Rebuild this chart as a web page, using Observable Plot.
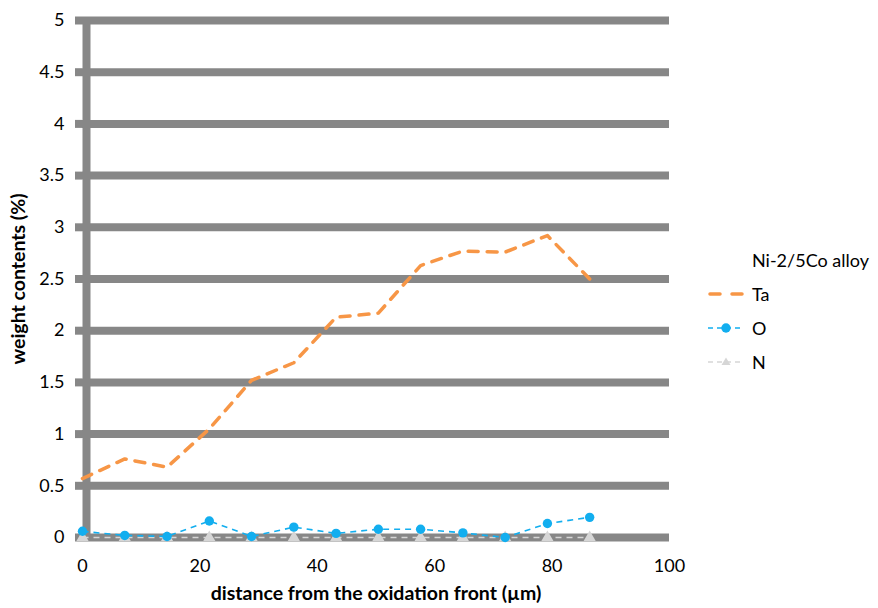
<!DOCTYPE html>
<html><head><meta charset="utf-8">
<script src="https://cdn.jsdelivr.net/npm/d3@7"></script>
<script src="https://cdn.jsdelivr.net/npm/@observablehq/plot@0.6"></script>
<style>
body{margin:0;background:#fff;font-family:Lato,"Open Sans",sans-serif}
#wrap{position:relative;width:878px;height:608px;overflow:hidden}
#legend{position:absolute;left:708px;top:243px;font-size:18px;color:#000;line-height:34px}
#legend .row{display:flex;align-items:center;height:34px}
#legend .title{padding-left:44px;height:34px}
#legend svg{margin-right:8px;flex:none}
</style></head><body><div id="wrap"></div>
<script>
// distance from the oxidation front (µm)
const distance = [0, 7.2, 14.4, 21.6, 28.8, 36, 43.2, 50.4, 57.6, 64.8, 72, 79.2, 86.4];
const ta = [0.57, 0.76, 0.68, 1.05, 1.52, 1.69, 2.13, 2.17, 2.63, 2.77, 2.76, 2.92, 2.5];
const oxygen = [0.06, 0.02, 0.01, 0.16, 0.01, 0.10, 0.04, 0.08, 0.08, 0.045, 0.0, 0.135, 0.195];
const nitrogen = [0, 0, 0, 0, 0, 0, 0, 0, 0, 0, 0, 0, 0];
const seriesNames = ["Ta", "O", "N"];
const xTicks = [0, 20, 40, 60, 80, 100];
const yTicks = [0, 0.5, 1, 1.5, 2, 2.5, 3, 3.5, 4, 4.5, 5];
const xLabel = "distance from the oxidation front (µm)";
const yLabel = "weight contents (%)";
const legendTitle = "Ni-2/5Co alloy";

const styles = {
  Ta: {stroke: "#F79646", strokeWidth: 3.5, dash: "10,9", cap: "round", marker: null},
  O: {stroke: "#12AEEF", strokeWidth: 1.6, dash: "6,5", cap: "butt", marker: "circle", r: 4.7},
  N: {stroke: "#D6D6D6", strokeWidth: 1.6, dash: "6,5", cap: "butt", marker: "triangle", r: 4.5}
};
const values = {Ta: ta, O: oxygen, N: nitrogen};
const rows = s => distance.map((d, i) => ({distance: d, value: values[s][i], series: s}));

const grid = "#878787";
const marks = [
  Plot.gridY(yTicks, {stroke: grid, strokeOpacity: 1, strokeWidth: 8}),
  Plot.axisY(yTicks, {tickSize: 7, stroke: grid, strokeWidth: 8, tickPadding: 11, label: null, fontSize: 18, tickFormat: d => String(d)}),
  Plot.axisX(xTicks, {tickSize: 0, tickPadding: 22, label: null, fontSize: 18}),
  Plot.ruleX([0], {stroke: grid, strokeWidth: 8, dx: 4}),
  Plot.text([xLabel], {frameAnchor: "bottom", lineAnchor: "middle", textAnchor: "middle", dy: 56, fontWeight: "bold", fontSize: 19.5}),
  Plot.text([yLabel], {frameAnchor: "left", textAnchor: "middle", lineAnchor: "middle", rotate: -90, dx: -64, fontWeight: "bold", fontSize: 19.5})
];
for (const s of ["N", "O", "Ta"]) {
  const st = styles[s];
  marks.push(Plot.line(rows(s), {x: "distance", y: "value", stroke: st.stroke, strokeWidth: st.strokeWidth, strokeDasharray: st.dash, strokeLinecap: st.cap}));
  if (st.marker) marks.push(Plot.dot(rows(s), {x: "distance", y: "value", symbol: st.marker, r: st.r, fill: st.stroke, stroke: "none"}));
}

const chart = Plot.plot({
  width: 878, height: 608,
  marginLeft: 82, marginRight: 209, marginTop: 20, marginBottom: 71,
  style: {fontFamily: "Lato, 'Open Sans', sans-serif", fontSize: "18px", color: "#000", background: "#fff"},
  x: {domain: [0, 100]},
  y: {domain: [0, 5]},
  marks
});
const wrap = document.getElementById("wrap");
wrap.appendChild(chart);

// legend
const legend = document.createElement("div");
legend.id = "legend";
let html = `<div class="title">${legendTitle}</div>`;
for (const s of seriesNames) {
  const st = styles[s];
  let m = "";
  if (st.marker === "circle") m = `<circle cx="18" cy="10" r="${st.r}" fill="${st.stroke}"/>`;
  if (st.marker === "triangle") m = `<path d="M18,5.5L22.5,13H13.5Z" fill="${st.stroke}"/>`;
  html += `<div class="row"><svg width="36" height="20"><line x1="${s === "Ta" ? 2 : 0}" x2="${s === "Ta" ? 34 : 36}" y1="10" y2="10" stroke="${st.stroke}" stroke-width="${st.strokeWidth}" stroke-dasharray="${s === "Ta" ? "10,12" : "5,4"}" stroke-linecap="${st.cap}"/>${m}</svg><span>${s}</span></div>`;
}
legend.innerHTML = html;
wrap.appendChild(legend);
</script></body></html>
